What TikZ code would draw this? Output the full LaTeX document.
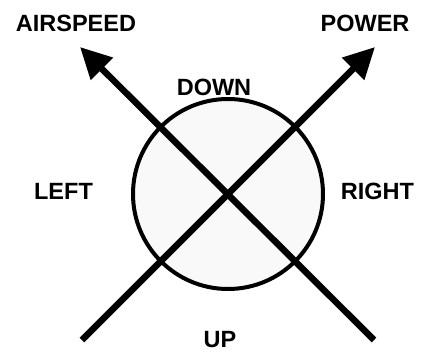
\documentclass[tikz,border=0pt]{standalone}
\usepackage{fontspec}
\setmainfont{Liberation Sans}
\usetikzlibrary{arrows.meta, positioning}
\definecolor{DialFill}{HTML}{F9F9F9}

\begin{document}
\begin{tikzpicture}[
  x=1bp, y=-1bp,
  dial/.style={circle, draw=black, line width=4bp, fill=DialFill, minimum size=190bp, inner sep=0pt},
  arrow/.style={-{Triangle[length=31bp, width=30bp]}, line width=6.5bp, black},
  label/.style={font=\fontsize{23.5bp}{28bp}\selectfont\bfseries, inner sep=0pt}
]
\useasboundingbox (0,0) rectangle (422,352);

\node[dial] (ball) at (228,194) {};

\coordinate (airTail) at (374,340);
\coordinate (airTip) at (80,47);
\coordinate (powTail) at (82,340);
\coordinate (powTip) at (375,47);

\draw[arrow] (airTail) -- (airTip);
\draw[arrow] (powTail) -- (powTip);

\node[label] (airspeed) at (76,23) {AIRSPEED};
\node[label] (power) at (365,23) {POWER};
\node[label] (down) at (214,87) {DOWN};
\node[label] (left) at (63.5,191) {LEFT};
\node[label] (right) at (377.5,191) {RIGHT};
\node[label] (up) at (220,340) {UP};

\end{tikzpicture}
\end{document}
